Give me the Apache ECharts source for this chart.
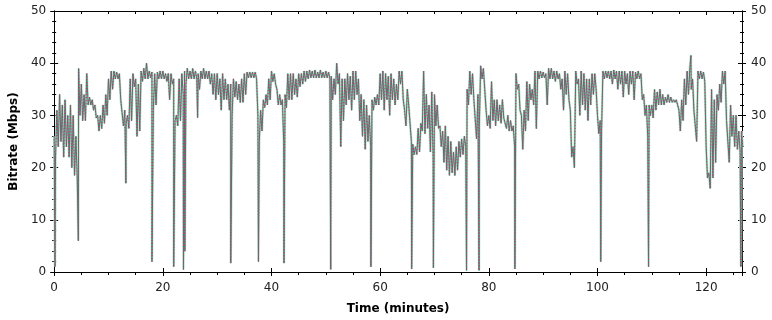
<!DOCTYPE html>
<html>
<head>
<meta charset="utf-8">
<script src="https://cdn.jsdelivr.net/npm/echarts@6/dist/echarts.min.js"></script>
<style>
  html, body { margin: 0; padding: 0; background: #fff; }
  #chart { width: 772px; height: 320px; }
</style>
</head>
<body>
<div id="chart"></div>
<script>
// bitrate per half-minute bin (Mbps): upper and lower edge of the trace
var step = 0.5;
var bitrateHi = [
  26, 31, 34, 32, 33, 30, 32, 30, 26, 39,
  36, 34, 38, 33.5, 33, 32, 30, 30, 32, 34,
  37, 38.5, 38.5, 38.3, 38, 33, 31, 30, 37, 38,
  37, 36, 38.5, 39, 40, 38.5, 38.3, 38, 38.3, 38.5,
  38.5, 38, 38, 38, 37, 30, 37, 38, 38.5, 39,
  38.5, 39, 38.5, 38, 38.5, 39, 38.5, 38.5, 38, 38,
  38, 37, 38, 37, 36, 36, 37, 36.5, 36, 37,
  38, 38.3, 38.3, 38.3, 38.3, 30, 31, 33, 34, 37,
  38.5, 38, 35, 34, 33, 34, 38, 38, 38, 37,
  38, 38, 38.5, 38.5, 38.7, 38.5, 38.7, 38.3, 38.7, 38.3,
  38.5, 38.3, 37.5, 37, 40, 38, 37, 37, 38, 37.5,
  38.5, 38.5, 37, 34, 33, 32, 30, 33, 33.5, 34,
  38, 38.5, 38, 37.5, 38, 37, 36, 38.5, 38.5, 31,
  35, 32, 24.5, 24, 27.5, 28.5, 38.5, 34, 32, 34.5,
  34, 32, 28, 27, 28, 26, 25, 23, 24, 25,
  25.5, 26, 35, 38.5, 38, 33, 34, 39.5, 39, 31,
  30, 36.5, 33, 33, 32, 33, 29.5, 30, 29, 28,
  38, 36, 30, 31, 36.5, 36, 35, 38.5, 38.5, 38.5,
  38.3, 38, 39, 39, 38.5, 38.5, 38, 37, 38.5, 38,
  31, 24, 38.5, 37, 38.5, 38, 37, 37, 38, 38,
  30, 29, 38.5, 38.5, 38.5, 38.5, 38.7, 38.5, 38.5, 38.5,
  38.5, 38, 38.5, 38.5, 38.3, 38.5, 38, 34, 32, 32,
  32, 35, 34.5, 35, 34, 33.5, 34, 33.5, 33, 33,
  31, 33, 37, 38.5, 39, 37, 31, 38.5, 38.5, 38.3,
  24, 19, 35, 33, 34, 36, 38.5, 38.5, 29, 32,
  30, 30, 27, 27
];
var bitrateLo = [
  22, 24, 25, 22, 24, 22, 20, 18.5, 18, 30,
  29, 29, 32, 32, 31, 29.5, 27, 27.5, 28.5, 30,
  33, 35, 37, 37, 33, 28, 28.5, 27.5, 29, 35.5,
  26, 27, 36.5, 37, 37, 37.2, 31, 32, 37, 37,
  37, 36.5, 33, 36, 29, 28, 29, 34, 36, 37,
  37, 37, 37, 35, 37, 37, 37, 36, 34, 33,
  34, 31, 33, 33, 31, 30, 33.5, 33, 32.5, 32.5,
  34, 37.2, 37.2, 37.2, 37, 25, 27, 31.5, 32, 33,
  36.5, 36, 32, 32, 25, 31.5, 33, 33, 34, 33.5,
  35.5, 36, 36.5, 37, 37.2, 37.2, 37.2, 37.2, 37.2, 37.2,
  37.2, 37, 33, 34, 36, 24, 29, 32, 33, 31,
  33, 34, 29, 26, 23.5, 25, 24, 31, 32, 32,
  33, 31, 33, 30, 33, 32, 33, 36, 33, 28,
  32, 25, 22.5, 22.5, 23, 27, 26.5, 27.5, 23, 22,
  28, 27.5, 24, 21, 19.5, 18.5, 19, 18.5, 19.5, 22,
  22.5, 24, 32, 34, 33, 25.5, 28, 37, 35, 28,
  27.5, 29, 28, 29, 28.5, 29.5, 27.5, 27, 27, 24,
  35, 31, 23.5, 27, 29, 33, 32, 27.5, 37, 37.2,
  37.2, 32, 37, 37, 36.5, 37, 35, 31, 34, 33,
  22, 20, 36, 30, 32, 31, 29, 32, 34, 35,
  26.5, 27, 37, 37.2, 37, 36, 37, 35, 36, 33.5,
  36, 34, 36, 33, 37, 37, 33, 30, 26, 30,
  29.5, 31, 32, 32, 32, 32.5, 32.5, 32.5, 32.5, 32,
  27, 29, 32, 34, 35, 31, 25, 37, 37, 36.5,
  18, 16, 18, 21, 31, 32.5, 36, 29, 21, 26,
  24, 23.5, 23, 24
];
// short drops / spikes between bins: [minute, Mbps]
var spikes = [
  [0.15, 1], [4.45, 6], [13.2, 17], [18.0, 2], [22.0, 1], [23.8, 0.5],
  [24.05, 4], [26.4, 29.6], [32.5, 1.7], [37.6, 2], [42.3, 1.7], [50.9, 0.5],
  [58.3, 1], [65.8, 0.6], [69.8, 0.8], [75.9, 0.3], [78.2, 0.3], [84.8, 0.6],
  [100.6, 2], [109.4, 1], [117.2, 41.5], [126.4, 1]
];
var xMax = 126.6;
var yTicks = [0, 10, 20, 30, 40, 50];

// trace goes up and down inside each bin: top edge, then bottom edge
var points = [];
bitrateHi.forEach(function (v, i) {
  points.push([i * step, v]);
  points.push([i * step + step / 2, bitrateLo[i]]);
});
points = points.concat(spikes).sort(function (a, b) { return a[0] - b[0]; });

var font = 'DejaVu Sans';
var labelStyle = { color: '#222', fontFamily: font, fontSize: 12 };

function xAx(pos, opts) {
  return Object.assign({
    type: 'value', position: pos, min: 0, max: xMax, interval: 20,
    axisLine: { show: true, onZero: false, lineStyle: { color: '#000', width: 1 } },
    splitLine: { show: false }
  }, opts);
}
function yAx(pos, opts) {
  return Object.assign({
    type: 'value', position: pos, min: yTicks[0], max: yTicks[yTicks.length - 1], interval: 10,
    axisLine: { show: true, onZero: false, lineStyle: { color: '#000', width: 1 } },
    splitLine: { show: false }
  }, opts);
}

var chart = echarts.init(document.getElementById('chart'), null, { renderer: 'canvas' });
chart.setOption({
  animation: false,
  backgroundColor: '#fff',
  grid: { left: 52, right: 30, top: 11, bottom: 48 },
  xAxis: [
    xAx('bottom', {
      name: 'Time (minutes)', nameLocation: 'middle', nameGap: 31,
      nameTextStyle: { color: '#000', fontFamily: font, fontSize: 12, fontWeight: 'bold' },
      axisTick: { show: true, inside: false, length: 4, lineStyle: { color: '#000' } },
      minorTick: { show: true, splitNumber: 4, length: 3, lineStyle: { color: '#000' } },
      axisLabel: Object.assign({ margin: 10, showMaxLabel: false }, labelStyle)
    }),
    xAx('bottom', {
      axisTick: { show: true, inside: true, length: 4, lineStyle: { color: '#000' } },
      axisLabel: { show: false }
    }),
    xAx('top', {
      axisTick: { show: true, inside: true, length: 4, lineStyle: { color: '#000' } },
      minorTick: { show: true, splitNumber: 4, length: 3, lineStyle: { color: '#000' } },
      axisLabel: { show: false }
    })
  ],
  yAxis: [
    yAx('left', {
      name: 'Bitrate (Mbps)', nameLocation: 'middle', nameGap: 34,
      nameTextStyle: { color: '#000', fontFamily: font, fontSize: 12, fontWeight: 'bold' },
      axisTick: { show: true, inside: false, length: 4, lineStyle: { color: '#000' } },
      minorTick: { show: true, splitNumber: 5, length: 2, lineStyle: { color: '#000' } },
      axisLabel: Object.assign({ margin: 8 }, labelStyle)
    }),
    yAx('left', {
      axisTick: { show: true, inside: true, length: 4, lineStyle: { color: '#000' } },
      minorTick: { show: true, splitNumber: 5, length: 2, lineStyle: { color: '#000' } },
      axisLabel: { show: false }
    }),
    yAx('right', {
      axisTick: { show: true, inside: false, length: 4, lineStyle: { color: '#000' } },
      minorTick: { show: true, splitNumber: 5, length: 2, lineStyle: { color: '#000' } },
      axisLabel: Object.assign({ margin: 9 }, labelStyle)
    }),
    yAx('right', {
      axisTick: { show: true, inside: true, length: 4, lineStyle: { color: '#000' } },
      minorTick: { show: true, splitNumber: 5, length: 2, lineStyle: { color: '#000' } },
      axisLabel: { show: false }
    })
  ],
  series: [
    { // pale halo
      type: 'line', data: points, showSymbol: false, silent: true,
      lineStyle: { color: '#bfe6cd', width: 2.5 }
    },
    {
      type: 'line', data: points, showSymbol: false, silent: true,
      lineStyle: { color: '#4a7f62', width: 1 }
    },
    {
      type: 'line', data: points, showSymbol: false, silent: true,
      lineStyle: { color: '#b8368f', width: 1, type: [1, 2] }
    }
  ]
});
</script>
</body>
</html>
